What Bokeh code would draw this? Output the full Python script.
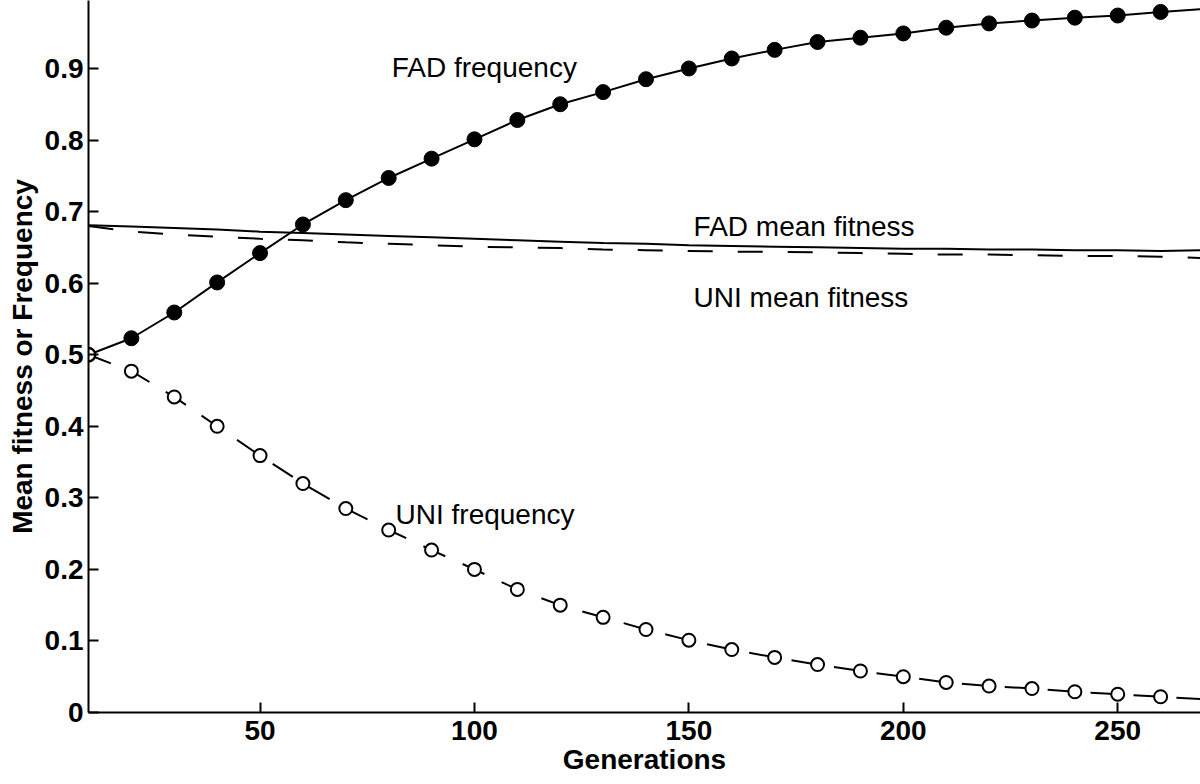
from bokeh.plotting import figure
from bokeh.models import Range1d, FixedTicker, Label
from bokeh.embed import file_html
from bokeh.resources import INLINE

# ---- data ----
generations = [10, 20, 30, 40, 50, 60, 70, 80, 90, 100, 110, 120, 130, 140,
               150, 160, 170, 180, 190, 200, 210, 220, 230, 240, 250, 260, 270]
fad_freq = [0.500, 0.523, 0.559, 0.601, 0.642, 0.682, 0.716, 0.747, 0.774, 0.801,
            0.828, 0.850, 0.867, 0.885, 0.900, 0.914, 0.926, 0.937, 0.943, 0.949,
            0.957, 0.963, 0.967, 0.971, 0.974, 0.979, 0.983]
uni_freq = [0.500, 0.477, 0.441, 0.400, 0.359, 0.320, 0.285, 0.255, 0.227, 0.200,
            0.172, 0.150, 0.133, 0.116, 0.101, 0.088, 0.077, 0.067, 0.058, 0.050,
            0.042, 0.037, 0.0335, 0.029, 0.0256, 0.022, 0.0186]
fad_mean_fit = [0.681, 0.679, 0.677, 0.675, 0.672, 0.670, 0.668, 0.666, 0.664, 0.662,
                0.660, 0.658, 0.656, 0.655, 0.653, 0.652, 0.651, 0.650, 0.649, 0.648,
                0.648, 0.647, 0.647, 0.646, 0.646, 0.645, 0.646]
uni_mean_fit = [0.680, 0.672, 0.668, 0.665, 0.662, 0.660, 0.657, 0.655, 0.653, 0.651,
                0.650, 0.649, 0.647, 0.646, 0.645, 0.644, 0.644, 0.643, 0.642, 0.641,
                0.640, 0.640, 0.639, 0.638, 0.638, 0.637, 0.635]
n_markers = 26  # markers drawn at generations 10..260

x_ticks = [50, 100, 150, 200, 250]
y_ticks = [0, 0.1, 0.2, 0.3, 0.4, 0.5, 0.6, 0.7, 0.8, 0.9]

annotations = [
    ("FAD frequency", 80.7, 0.902),
    ("FAD mean fitness", 151.1, 0.6795),
    ("UNI mean fitness", 151.1, 0.580),
    ("UNI frequency", 81.6, 0.277),
]

FONT = "Liberation Sans"
X0, X1 = 10, 269.3
Y0, Y1 = 0, 0.995

p = figure(width=1200, height=784, output_backend="svg", toolbar_location=None,
           x_range=Range1d(X0, X1), y_range=Range1d(Y0, Y1),
           min_border_left=88, min_border_right=0, min_border_top=0,
           min_border_bottom=72)
p.outline_line_color = None
p.xgrid.visible = False
p.ygrid.visible = False
p.background_fill_color = "white"
p.border_fill_color = "white"

for ax in (p.xaxis[0], p.yaxis[0]):
    ax.axis_line_width = 2
    ax.axis_line_color = "black"
    ax.major_tick_in = 10
    ax.major_tick_out = 0
    ax.major_tick_line_width = 2
    ax.major_tick_line_color = "black"
    ax.minor_tick_line_color = None
    ax.major_label_text_font = FONT
    ax.major_label_text_font_style = "bold"
    ax.major_label_text_font_size = "28px"
    ax.major_label_text_color = "black"
    ax.axis_label_text_font = FONT
    ax.axis_label_text_font_style = "bold"
    ax.axis_label_text_font_size = "28px"
    ax.axis_label_text_color = "black"

p.xaxis.ticker = FixedTicker(ticks=x_ticks)
p.yaxis.ticker = FixedTicker(ticks=y_ticks)
p.yaxis.major_label_overrides = {0: "0"}
p.xaxis.major_label_standoff = 8
p.yaxis.major_label_standoff = 5

p.yaxis.axis_label = "Mean fitness or Frequency"
p.yaxis.axis_label_standoff = 4
p.xaxis.axis_label = "Generations"
p.xaxis.axis_label_standoff = 1

# mean fitness lines
p.line(generations, fad_mean_fit, line_color="black", line_width=2)
p.line(generations, uni_mean_fit, line_color="black", line_width=2,
       line_dash="25 25")

# frequency lines
p.line(generations, fad_freq, line_color="black", line_width=2)
p.line(generations, uni_freq, line_color="black", line_width=2,
       line_dash="24 19")
p.scatter(generations[:n_markers], fad_freq[:n_markers], marker="circle",
          size=15, fill_color="black", line_color="black")
p.scatter(generations[:n_markers], uni_freq[:n_markers], marker="circle",
          size=13, fill_color="white", line_color="black", line_width=2)

for txt, ax_, ay_ in annotations:
    p.add_layout(Label(x=ax_, y=ay_, text=txt, text_align="left",
                       text_baseline="alphabetic", text_font=FONT,
                       text_font_size="28px", text_color="black"))

open("out.html", "w").write(file_html(p, INLINE))
